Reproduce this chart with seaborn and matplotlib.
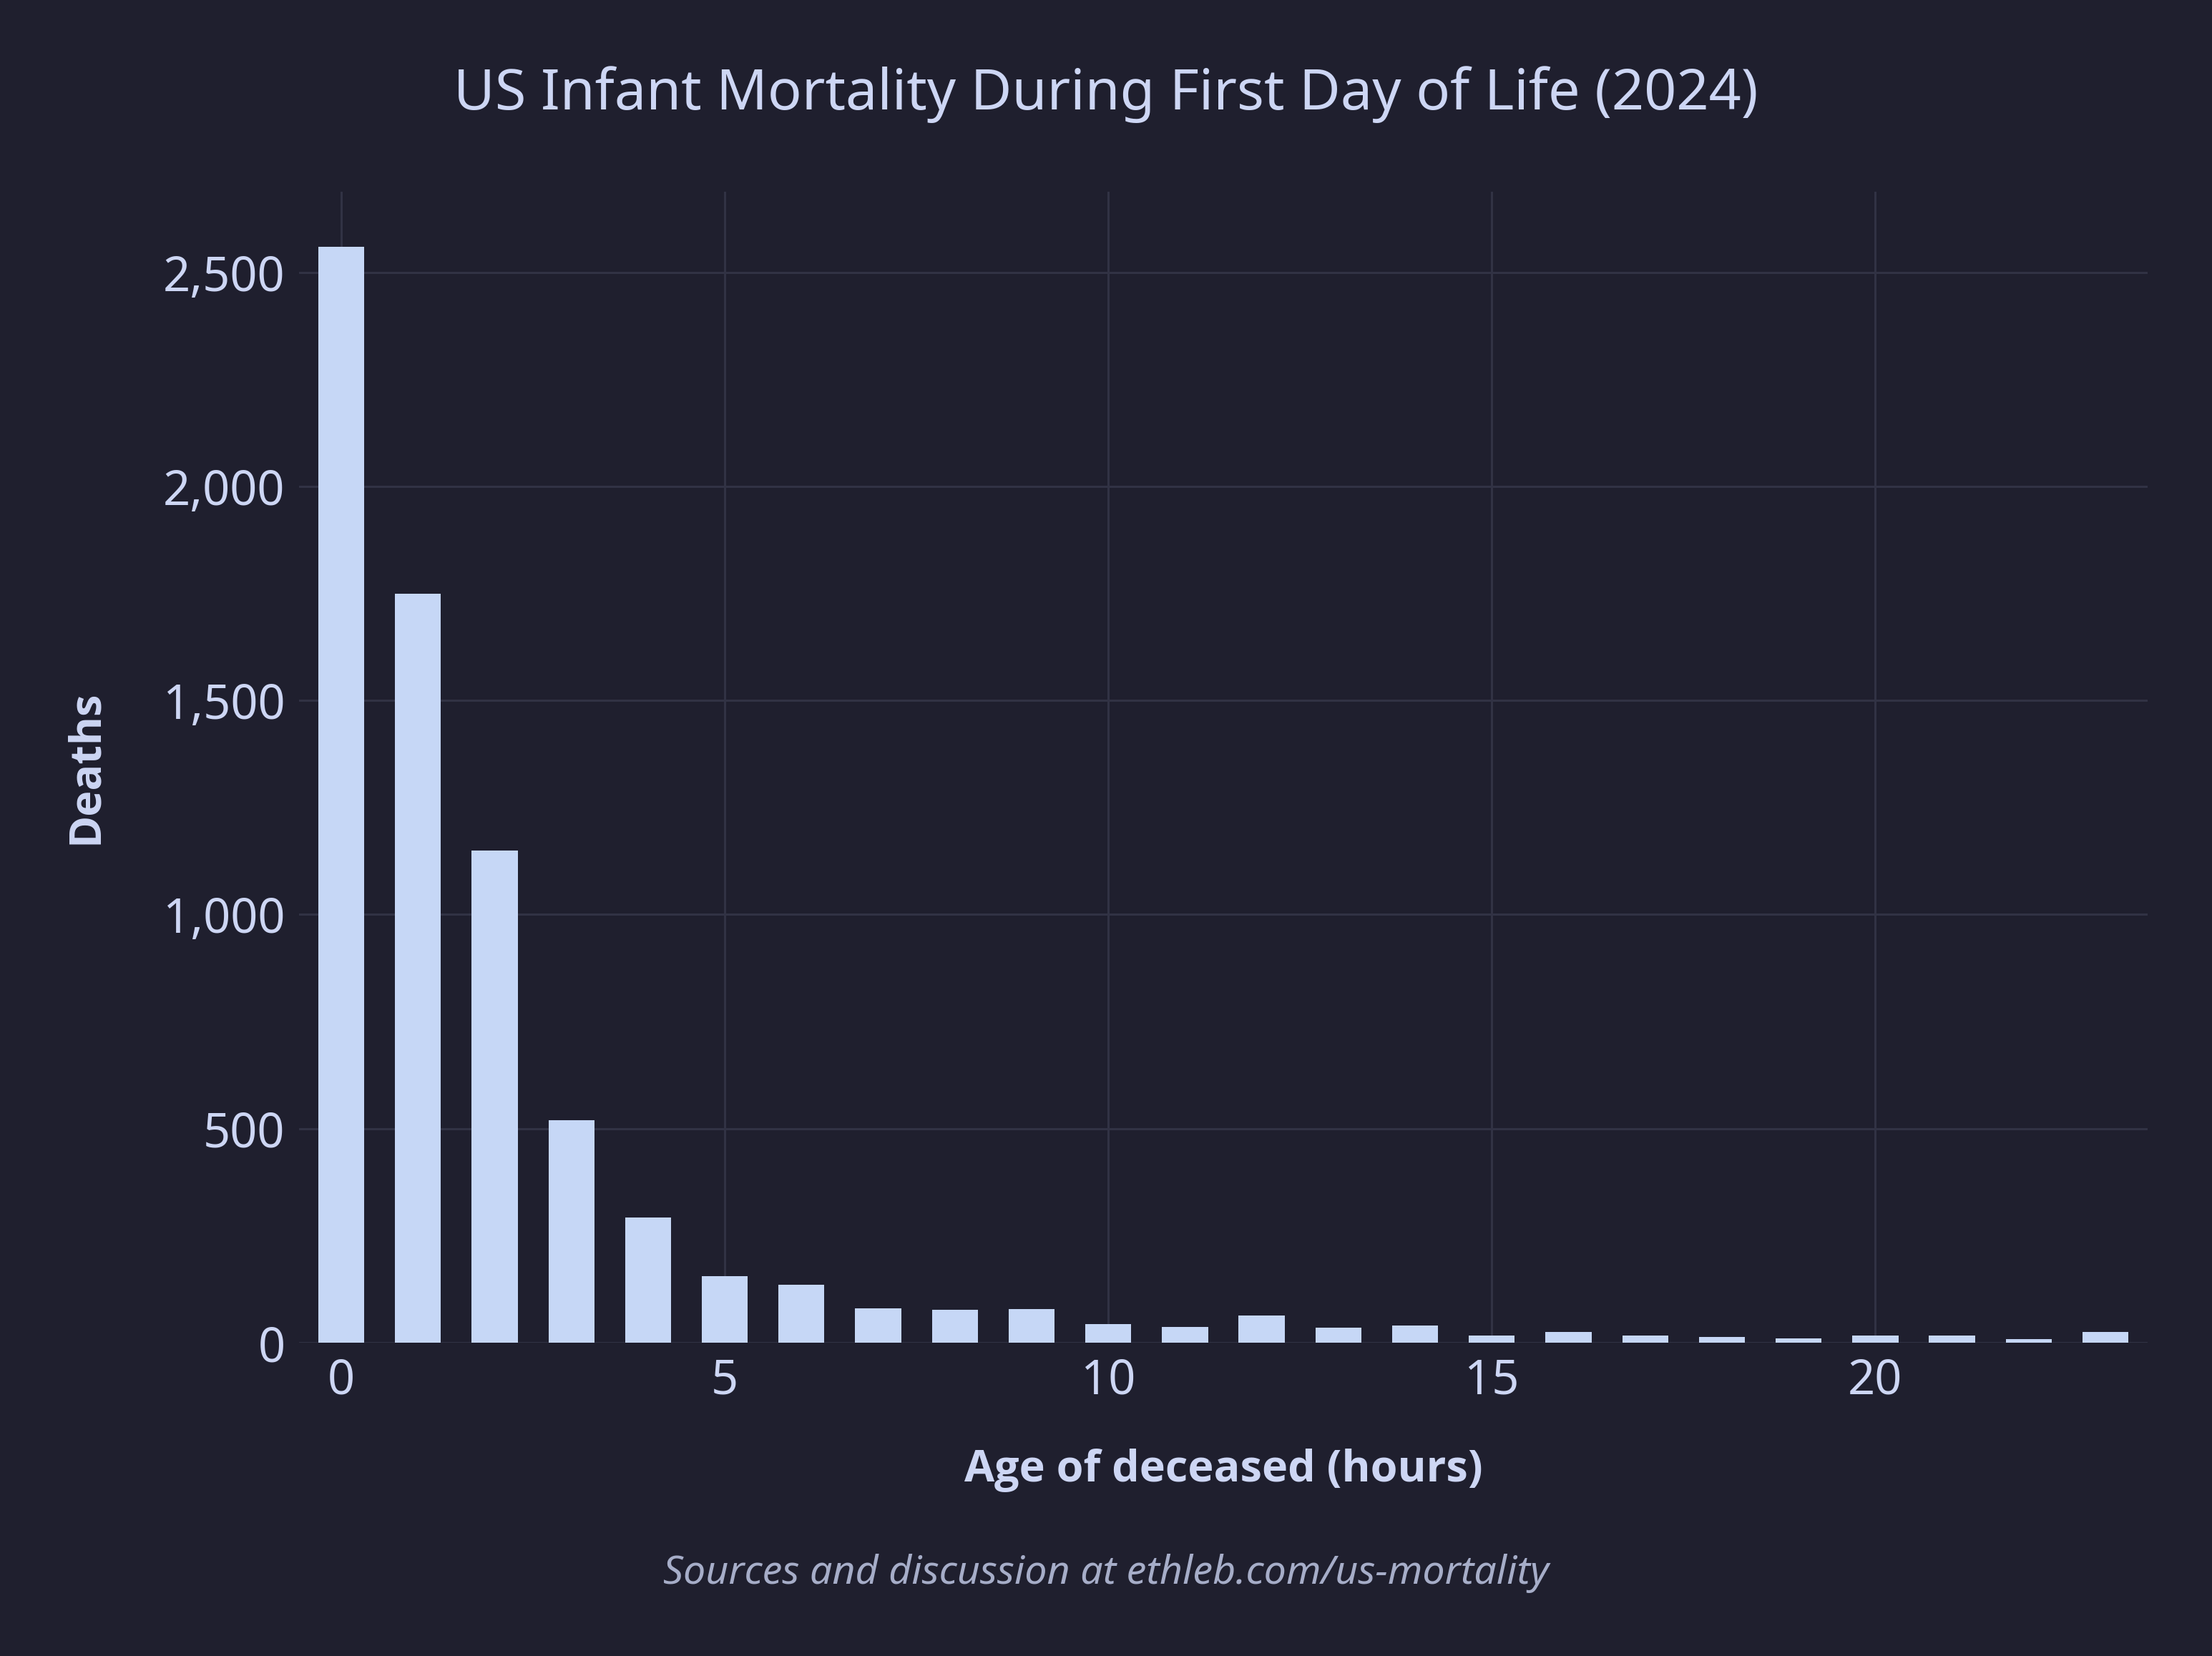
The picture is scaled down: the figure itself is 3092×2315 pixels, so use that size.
import matplotlib
matplotlib.use("Agg")
import matplotlib.pyplot as plt
import matplotlib.ticker as mticker
import seaborn as sns
import pandas as pd

hours = list(range(24))
deaths = [2560, 1750, 1150, 520, 292, 155, 135, 80, 77, 78, 43, 36,
          63, 35, 40, 16, 25, 16, 13, 10, 16, 16, 8, 25]

bg = "#1f1f2e"
bar_color = "#c6d7f6"
text_color = "#cdd6f4"
grid_color = "#313244"
caption_color = "#a6adc8"

df = pd.DataFrame({"hours": hours, "deaths": deaths})

sns.set_style("dark")
plt.rcParams["font.family"] = ["Noto Sans", "DejaVu Sans"]
bold_family = ["Open Sans", "DejaVu Sans"]

fig = plt.figure(figsize=(15.46, 11.575), dpi=200, facecolor=bg)
ax = fig.add_axes([0.1352, 0.1892, 0.8357, 0.6950])
ax.set_facecolor(bg)

sns.barplot(data=df, x="hours", y="deaths", native_scale=True, width=0.6,
            color=bar_color, saturation=1, linewidth=0, ax=ax, zorder=3)

ax.set_xlim(-0.55, 23.55)
ax.set_ylim(0, 2688)
ax.set_xticks([0, 5, 10, 15, 20])
ax.set_yticks([0, 500, 1000, 1500, 2000, 2500])
ax.yaxis.set_major_formatter(mticker.FuncFormatter(lambda v, p: f"{int(v):,}"))

ax.grid(True, color=grid_color, linewidth=1.1)
ax.set_axisbelow(True)
for s in ax.spines.values():
    s.set_visible(False)
ax.tick_params(length=0, labelsize=24, colors=text_color, pad=7)

ax.set_xlabel("Age of deceased (hours)", fontsize=22, fontweight="bold",
              family=bold_family, color=text_color, va="center")
ax.xaxis.set_label_coords(0.5, -0.111)
ax.set_ylabel("Deaths", fontsize=22, fontweight="bold", family=bold_family,
              color=text_color, va="center", ha="center")
ax.yaxis.set_label_coords(-0.115, 0.5)

fig.text(0.5, 0.9431, "US Infant Mortality During First Day of Life (2024)",
         ha="center", va="center", fontsize=28.5, color=text_color)
fig.text(0.5, 0.0497, "Sources and discussion at ethleb.com/us-mortality",
         ha="center", va="center", fontsize=20, style="italic", color=caption_color)

fig.savefig("out.png", dpi=200, facecolor=bg)
